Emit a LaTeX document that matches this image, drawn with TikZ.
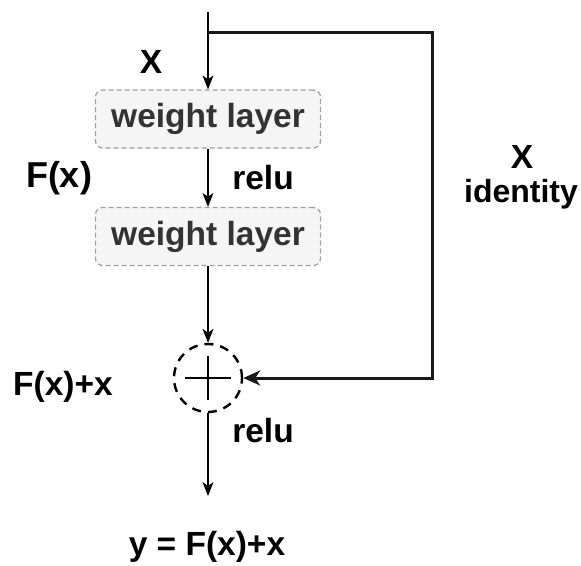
\documentclass[tikz,border=0pt]{standalone}
\usepackage{fontspec}
\setmainfont{Liberation Sans}
\usetikzlibrary{arrows.meta}
\begin{document}
\begin{tikzpicture}[x=1pt,y=-1pt,
  lbl/.style={font=\fontsize{33.5}{38}\selectfont\bfseries, text=black, inner sep=0pt},
  wlayer/.style={draw=gray!75, dashed, dash pattern=on 5pt off 3pt, fill=gray!8, rounded corners=7pt,
    minimum width=225pt, minimum height=58pt, inner sep=0pt, line width=1.2pt,
    font=\fontsize{33.5}{38}\selectfont\bfseries, text=black!80},
  arr/.style={line width=1.4pt, -{Stealth[length=14pt,width=11pt,inset=4pt]}},
  idarr/.style={line width=3pt, draw=black!90, -{Stealth[length=17pt,width=15pt,inset=5pt]}}
]
\useasboundingbox (0,0) rectangle (581,565);
\coordinate (top) at (208,12);
\coordinate (split) at (208,32);
\coordinate (c1) at (432,32);
\coordinate (c2) at (432,378);
\coordinate (out) at (208,496);
\node[wlayer] (w1) at (208,119) {weight layer};
\node[wlayer] (w2) at (208,236.5) {weight layer};
\node[circle, draw, dashed, dash pattern=on 9pt off 7pt, line width=2.4pt, minimum size=68pt, inner sep=0pt] (sum) at (208,378) {};
\draw[line width=1.2pt] (185,378) -- (231,378) (208,356) -- (208,400);
\draw[arr] (top) -- (w1.north);
\draw[arr] (w1.south) -- (w2.north);
\draw[arr] (w2.south) -- (sum.north);
\draw[arr] (sum.south) -- (out);
\draw[idarr] (split) -- (c1) -- (c2) -- (sum.east);
\node[lbl] (lx) at (151,62) {X};
\node[lbl] (lrelu1) at (263,178) {relu};
\node[lbl, font=\fontsize{36}{40}\selectfont\bfseries] (lfx) at (59,178) {F(x)};
\node[lbl] (lsum) at (63,387) {F(x)+x};
\node[lbl] (lrelu2) at (263,431) {relu};
\node[lbl] (ly) at (207,547) {y = F(x)+x};
\node[lbl] (lX) at (522,157) {X};
\node[lbl, font=\fontsize{32}{36}\selectfont\bfseries] (lid) at (521,194) {identity};
\end{tikzpicture}
\end{document}
